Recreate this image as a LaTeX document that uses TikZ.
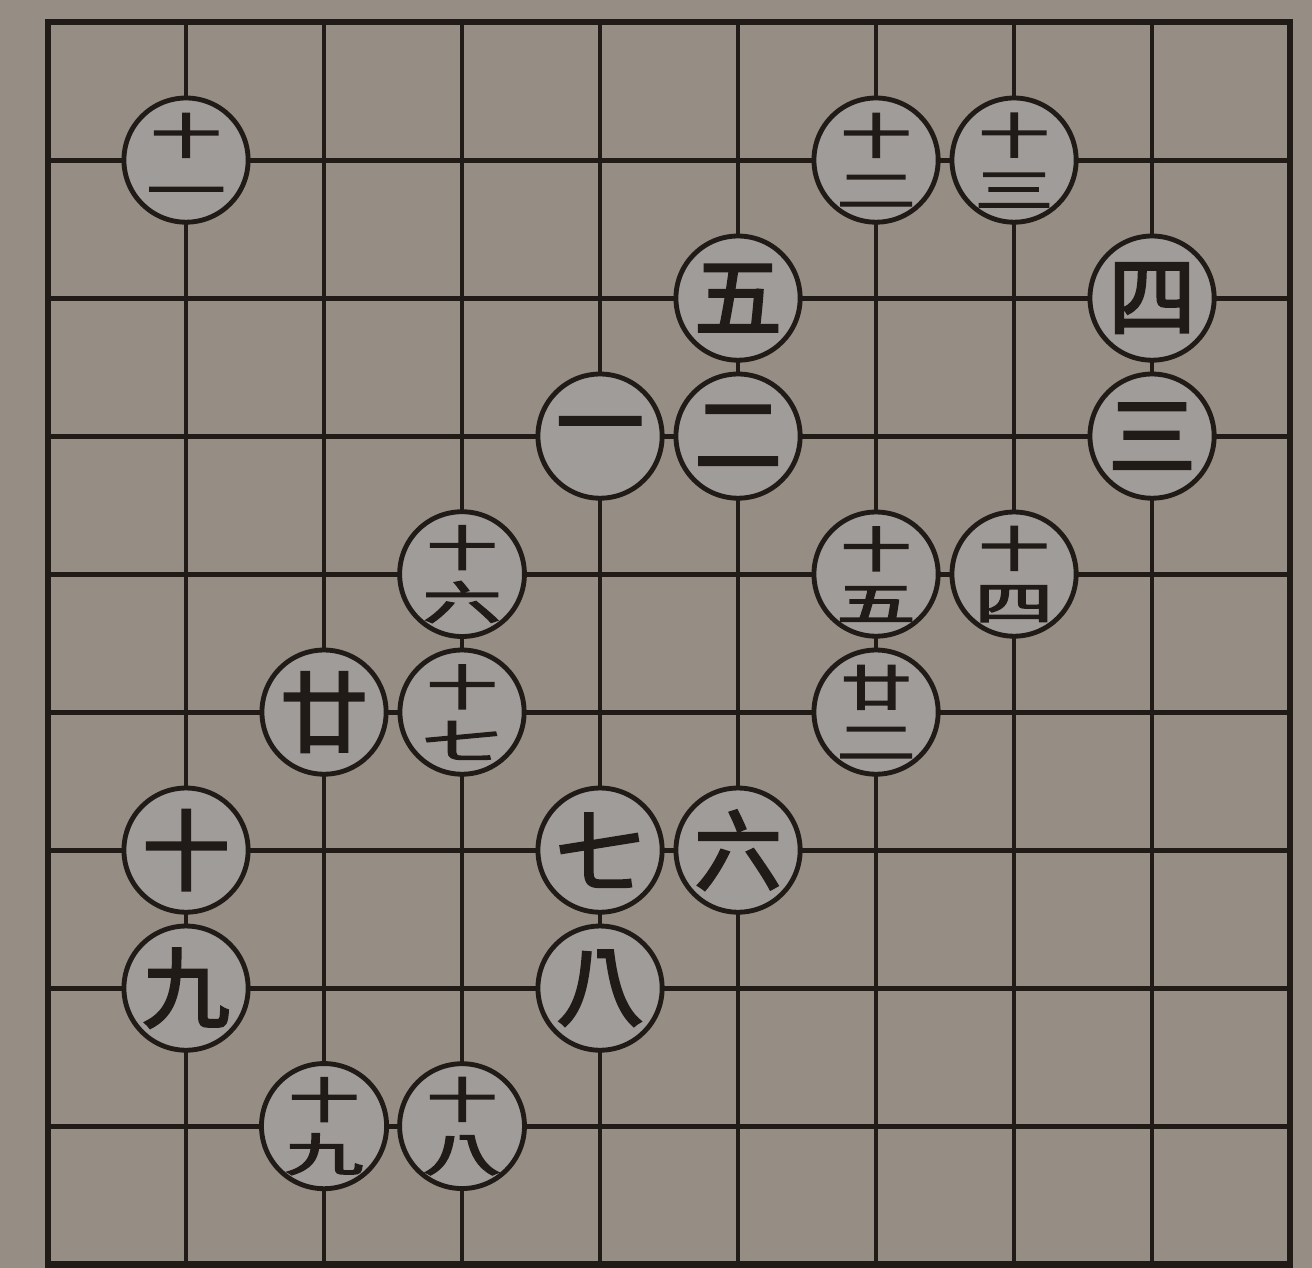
\documentclass[tikz,border=0pt]{standalone}
\usepackage{fontspec}
\usepackage{graphicx}
\newfontfamily\cjkfont[FakeBold=3]{Noto Sans CJK TC}
\definecolor{paper}{RGB}{150,141,133}
\definecolor{stonepaper}{RGB}{160,156,153}
\definecolor{ink}{RGB}{33,27,24}
% upper and lower half of a two-character move number
\newcommand{\numtop}[1]{\scalebox{.8}[.55]{#1}}
\newcommand{\numbot}[1]{\scalebox{.9}[.52]{#1}}

\begin{document}
\begin{tikzpicture}[
		% Define styles
		board/.style={draw=ink, line width=1.4pt},
		gridline/.style={draw=ink, line width=1pt},
		stone/.style={circle, draw=ink, line width=1pt, fill=stonepaper, minimum size=0.9cm, inner sep=0pt, text=ink, font=\cjkfont\fontsize{18}{18}\selectfont},
		pair/.style={stone, align=center, font=\cjkfont\fontsize{18}{11}\selectfont}
		]
		
		% Paper
		\path [use as bounding box, fill=paper] (-0.348,0.160) rectangle (9.159,-9.028);
		
		% Board lines
		\draw [gridline] (0,-9) grid (9,0);
		\draw [board] (0,0) rectangle (9,-9);
		
		% Moves one to ten
		\node (move1) [stone] at (4,-3) {一};
		\node (move2) [stone] at (5,-3) {二};
		\node (move3) [stone] at (8,-3) {三};
		\node (move4) [stone] at (8,-2) {四};
		\node (move5) [stone] at (5,-2) {五};
		\node (move6) [stone] at (5,-6) {六};
		\node (move7) [stone] at (4,-6) {七};
		\node (move8) [stone] at (4,-7) {八};
		\node (move9) [stone] at (1,-7) {九};
		\node (move10) [stone] at (1,-6) {十};
		
		% Moves eleven to twenty-two
		\node (move11) [pair] at (1,-1) {\numtop{十}\\\numbot{一}};
		\node (move12) [pair] at (6,-1) {\numtop{十}\\\numbot{二}};
		\node (move13) [pair] at (7,-1) {\numtop{十}\\\numbot{三}};
		\node (move14) [pair] at (7,-4) {\numtop{十}\\\numbot{四}};
		\node (move15) [pair] at (6,-4) {\numtop{十}\\\numbot{五}};
		\node (move16) [pair] at (3,-4) {\numtop{十}\\\numbot{六}};
		\node (move17) [pair] at (3,-5) {\numtop{十}\\\numbot{七}};
		\node (move18) [pair] at (3,-8) {\numtop{十}\\\numbot{八}};
		\node (move19) [pair] at (2,-8) {\numtop{十}\\\numbot{九}};
		\node (move20) [stone] at (2,-5) {廿};
		\node (move22) [pair] at (6,-5) {\numtop{廿}\\\numbot{二}};
		
	\end{tikzpicture}
\end{document}
